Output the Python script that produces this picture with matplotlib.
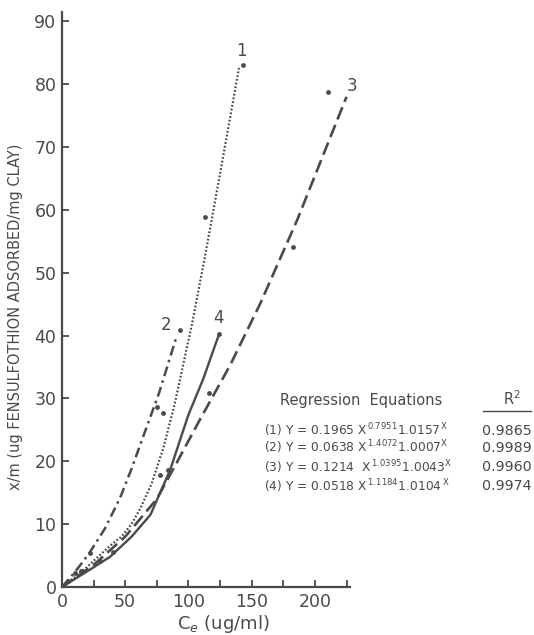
import matplotlib
matplotlib.use("Agg")
import matplotlib.pyplot as plt
import numpy as np

# curves (Ce in ug/ml, x/m in ug/mg)
c1_x = [0, 10, 20, 28.5, 40, 47, 55, 62, 71, 80, 89, 103, 113, 123, 140]
c1_y = [0, 1.5, 3.2, 4.8, 6.9, 8.0, 10.0, 12.5, 16.5, 22.0, 29.0, 42.0, 52.5, 63.5, 82.6]

c2_x = [0, 10, 21, 34, 46, 55, 64, 77, 91]
c2_y = [0, 2.3, 5.2, 9.3, 14.2, 18.8, 23.8, 31.0, 40.1]

c3_x = [0, 25, 50, 75, 90, 109, 133, 157, 186, 225]
c3_y = [0, 3.5, 8.0, 14.0, 19.5, 26.6, 35.3, 45.2, 58.4, 78.0]

c4_x = [0, 20, 38, 55, 70, 85.5, 100, 111.5, 124]
c4_y = [0, 2.5, 4.8, 8.0, 11.5, 18.6, 27.4, 33.0, 40.1]

# measured points
pts_x = [143, 210, 113, 183, 93.4, 124, 116, 80, 75, 77.5, 84, 40, 22, 10, 5, 30, 15]
pts_y = [83.1, 78.7, 58.9, 54.1, 40.9, 40.3, 30.9, 27.7, 28.7, 17.8, 18.6, 5.6, 5.4, 2.2, 1.0, 4.2, 2.6]

curve_names = ["1", "2", "3", "4"]
eq_lines = [
    r"(1) Y = 0.1965 X$^{\,0.7951}$1.0157$^{\,\mathrm{X}}$",
    r"(2) Y = 0.0638 X$^{\,1.4072}$1.0007$^{\mathrm{X}}$",
    r"(3) Y = 0.1214  X$^{\,1.0395}$1.0043$^{\mathrm{X}}$",
    r"(4) Y = 0.0518 X$^{\,1.1184}$1.0104$^{\,\mathrm{X}}$",
]
r2_vals = ["0.9865", "0.9989", "0.9960", "0.9974"]

ink = "#4a4a4a"
plt.rcParams["mathtext.fontset"] = "dejavusans"

fig = plt.figure(figsize=(5.34, 6.35), dpi=100)
ax = fig.add_axes([0.116, 0.0756, 0.54, 0.9055])

ax.plot(c1_x, c1_y, color=ink, lw=1.6, ls=(0, (0.8, 0.9)))
ax.plot(c2_x, c2_y, color=ink, lw=1.8, ls=(0, (4, 1.8, 1, 1.8)))
ax.plot(c3_x, c3_y, color=ink, lw=1.9, ls=(0, (5, 2.2)))
ax.plot(c4_x, c4_y, color=ink, lw=1.7)
ax.scatter(pts_x, pts_y, s=6, color=ink, zorder=3)

# curve numbers at the upper ends
ends = [(c1_x[-1], c1_y[-1], (2, 6)), (c2_x[-1], c2_y[-1], (-8, 1)),
        (c3_x[-1], c3_y[-1], (4, 1)), (c4_x[-1], c4_y[-1], (0, 6))]
for name, (ex, ey, off) in zip(curve_names, ends):
    ax.annotate(name, (ex, ey), xytext=off, textcoords="offset points",
                ha="center", va="bottom", fontsize=12, color=ink)

ax.set_xlim(0, 228)
ax.set_ylim(0, 91.5)
ax.set_xticks([0, 50, 100, 150, 200])
ax.set_xticks(np.arange(25, 226, 50), minor=True)
ax.set_yticks(np.arange(0, 91, 10))
for s in ["top", "right"]:
    ax.spines[s].set_visible(False)
for s in ["left", "bottom"]:
    ax.spines[s].set_color(ink)
    ax.spines[s].set_linewidth(1.6)
ax.tick_params(which="both", direction="in", length=5, width=1.3, color=ink,
               labelcolor=ink, labelsize=12.5, pad=4)

ax.set_xlabel(r"C$_e$ (ug/ml)", fontsize=13, color=ink)
ax.xaxis.set_label_coords(0.56, -0.045)
ax.set_ylabel("x/m (ug FENSULFOTHION ADSORBED/mg CLAY)", fontsize=10.5,
              color=ink, va="center")
ax.yaxis.set_label_coords(-0.16, 0.47)

# regression equations block
fig.text(0.525, 0.37, "Regression  Equations", fontsize=10.5, color=ink, va="center")
fig.text(0.958, 0.372, r"R$^2$", fontsize=10.5, color=ink, va="center", ha="center")
fig.add_artist(plt.Line2D([0.905, 0.995], [0.352, 0.352], color=ink, lw=1))
row_y = [0.322, 0.295, 0.265, 0.234]
for eq, r2, yy in zip(eq_lines, r2_vals, row_y):
    fig.text(0.495, yy, eq, fontsize=8.8, color=ink, va="center")
    fig.text(0.902, yy, r2, fontsize=10.3, color=ink, va="center")

fig.savefig("out.png", dpi=100)
